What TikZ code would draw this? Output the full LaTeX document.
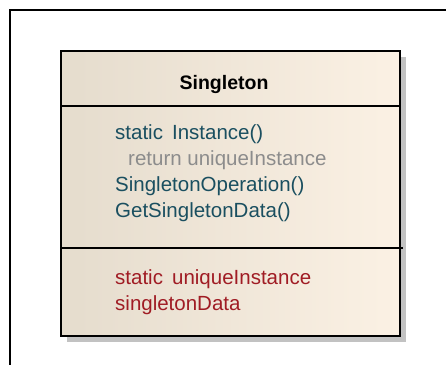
\documentclass[tikz,border=0pt]{standalone}
\usepackage{fontspec}
\setmainfont{Liberation Sans}
\definecolor{optext}{HTML}{1A4F60}
\definecolor{rettext}{HTML}{8C8C8C}
\definecolor{attrtext}{HTML}{A01C24}
\definecolor{fillL}{HTML}{E5DCCD}
\definecolor{fillR}{HTML}{FBF1E4}
\definecolor{shadowc}{HTML}{C2C2C2}
\tikzset{
  optxt/.style={anchor=base west,inner sep=0pt,text=optext,font=\fontsize{20.5}{24}\selectfont},
  rettxt/.style={anchor=base west,inner sep=0pt,text=rettext,font=\fontsize{20.5}{24}\selectfont},
  attrtxt/.style={anchor=base west,inner sep=0pt,text=attrtext,font=\fontsize{20.5}{24}\selectfont},
  titletxt/.style={anchor=base,inner sep=0pt,font=\fontsize{19.5}{22}\selectfont\bfseries},
  sepline/.style={line width=1.2pt,black},
}
\begin{document}
\begin{tikzpicture}[x=1pt,y=-1pt]
\useasboundingbox (0,0) rectangle (446,365);
\fill[white] (0,0) rectangle (446,365);
% frame
\draw[line width=1.2pt] (446,10) -- (10,10) -- (10,365);
% shadow
\fill[shadowc] (67,57) rectangle (406,342);
% box
\shade[left color=fillL,right color=fillR] (61,51) rectangle (400,336);
\draw[line width=1.2pt] (61,51) rectangle (400,336);
\draw[sepline] (61,106) -- (400,106);
\draw[sepline] (61,248) -- (403,248);
% texts
\node[titletxt] (title) at (224,89) {Singleton};
\node[optxt] (op1) at (115,139) {static\, Instance()};
\node[rettxt] (ret) at (128,165) {return uniqueInstance};
\node[optxt] (op2) at (115,191) {SingletonOperation()};
\node[optxt] (op3) at (115,217) {GetSingletonData()};
\node[attrtxt] (at1) at (115,284) {static\, uniqueInstance};
\node[attrtxt] (at2) at (115,310) {singletonData};
\end{tikzpicture}
\end{document}
